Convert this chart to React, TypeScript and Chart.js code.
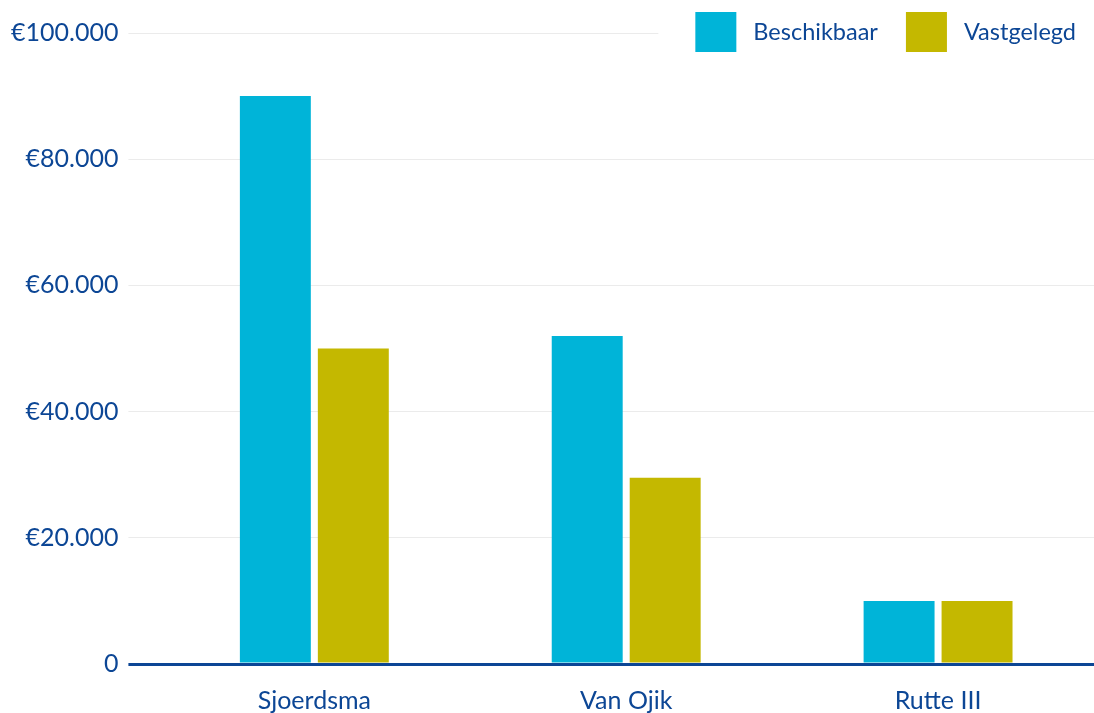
import React, { useEffect, useRef } from "react";
import { Chart, registerables } from "chart.js";

Chart.register(...registerables);

const categories = ["Sjoerdsma", "Van Ojik", "Rutte III"];
const beschikbaar = [90000, 52000, 10000];
const vastgelegd = [50000, 29500, 10000];
const seriesNames = ["Beschikbaar", "Vastgelegd"];
const yTickLabels = ["0", "€20.000", "€40.000", "€60.000", "€80.000", "€100.000"];

const BLUE_TEXT = "#0c4695";
const CYAN = "#00b4d8";
const OLIVE = "#c4b800";
const FONT = "Lato";

const legendPlugin = {
  id: "customLegend",
  afterDraw(chart: any) {
    const ctx = chart.ctx;
    const ds = chart.data.datasets;
    ctx.save();
    ctx.font = `23.5px ${FONT}`;
    const box = 41;
    const boxH = 40;
    const gapText = 17;
    const gapItem = 28;
    let widths = ds.map((d: any) => box + gapText + ctx.measureText(d.label).width);
    const total = widths.reduce((a: number, b: number) => a + b, 0) + gapItem * (ds.length - 1);
    const right = chart.width - 18;
    let x = right - total;
    ctx.fillStyle = "#ffffff";
    ctx.fillRect(x - 37, 0, chart.width - (x - 37), 62);
    const top = 12;
    ds.forEach((d: any, i: number) => {
      ctx.fillStyle = d.backgroundColor;
      ctx.fillRect(x, top, box, boxH);
      ctx.fillStyle = BLUE_TEXT;
      ctx.textBaseline = "middle";
      ctx.textAlign = "left";
      ctx.fillText(d.label, x + box + gapText, top + boxH / 2);
      x += widths[i] + gapItem;
    });
    ctx.restore();
  },
};

export default function App() {
  const ref = useRef<HTMLCanvasElement | null>(null);
  useEffect(() => {
    if (!ref.current) return;
    const chart = new Chart(ref.current, {
      type: "bar",
      data: {
        labels: categories,
        datasets: [
          { label: seriesNames[0], data: beschikbaar, backgroundColor: CYAN },
          { label: seriesNames[1], data: vastgelegd, backgroundColor: OLIVE },
        ],
      },
      options: {
        animation: false,
        responsive: true,
        maintainAspectRatio: false,
        layout: { padding: { top: 33, left: 1, right: 0, bottom: -25 } },
        datasets: { bar: { categoryPercentage: 0.5, barPercentage: 0.91 } },
        plugins: { legend: { display: false }, tooltip: { enabled: false } },
        scales: {
          x: {
            grid: { display: false, drawTicks: false },
            border: { display: false },
            ticks: { color: BLUE_TEXT, font: { family: FONT, size: 25 }, padding: 22 },
          },
          y: {
            min: 0,
            max: 100000,
            border: { display: false },
            grid: {
              color: (c: any) => (c.tick && c.tick.value === 0 ? "#0c4695" : "#ebebeb"),
              lineWidth: (c: any) => (c.tick && c.tick.value === 0 ? 3 : 1),
              tickLength: 30,
            },
            ticks: {
              stepSize: 20000,
              color: BLUE_TEXT,
              font: { family: FONT, size: 25 },
              padding: 10,
              callback: (_v: any, i: number) => yTickLabels[i],
            },
          },
        },
      },
      plugins: [legendPlugin],
    });
    return () => chart.destroy();
  }, []);
  return (
    <div style={{ position: "fixed", left: 0, top: 0, width: 1094, height: 713, background: "#fff" }}>
      <canvas ref={ref} />
    </div>
  );
}
